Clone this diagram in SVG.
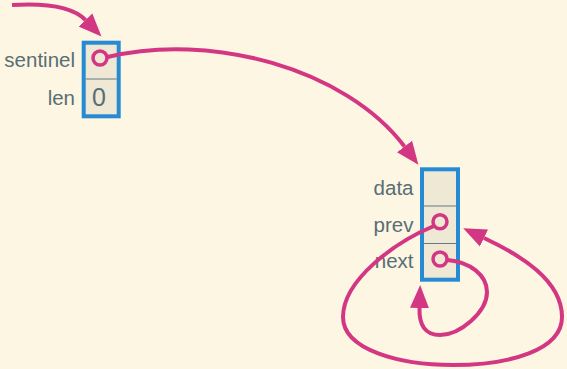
<svg xmlns="http://www.w3.org/2000/svg" width="567" height="369" viewBox="0 0 567 369">
<style>
.bg{fill:#fdf6e3}
.box{fill:#eee8d5;stroke:#268bd2;stroke-width:4}
.div{stroke:#657b83;stroke-width:1}
.lbl{font-family:"Liberation Sans",Arial,sans-serif;font-size:20.5px;fill:#586e75;text-anchor:end}
.val{font-family:"Liberation Sans",Arial,sans-serif;font-size:25px;fill:#586e75;text-anchor:middle}
.ptr{fill:none;stroke:#d33682;stroke-width:3.5}
.conn{fill:none;stroke:#d33682;stroke-width:4}
</style>
<defs>
<marker id="ah" viewBox="0 -10 24 20" markerWidth="24" markerHeight="20" refX="0" refY="0" orient="auto" markerUnits="userSpaceOnUse">
<path d="M0,-9.5 L23,0 L0,9.5 z" fill="#d33682"/>
</marker>
</defs>
<rect class="bg" x="0" y="0" width="567" height="369"/>
<g id="list">
<rect class="box" x="83.7" y="42.7" width="35" height="73.6"/>
<line class="div" x1="85.7" y1="79" x2="116.7" y2="79"/>
<text class="lbl" x="75" y="67">sentinel</text>
<text class="lbl" x="75" y="105">len</text>
<text class="val" x="99" y="105.5">0</text>
<circle class="ptr" cx="100" cy="58" r="7"/>
</g>
<g id="node">
<rect class="box" x="422" y="169.3" width="36" height="110.4"/>
<line class="div" x1="424" y1="206" x2="456" y2="206"/>
<line class="div" x1="424" y1="243.5" x2="456" y2="243.5"/>
<text class="lbl" x="413.5" y="195">data</text>
<text class="lbl" x="413.5" y="231.5">prev</text>
<text class="lbl" x="413.5" y="268">next</text>
<circle class="ptr" cx="440" cy="221.7" r="7"/>
<circle class="ptr" cx="440" cy="259" r="7"/>
</g>
<g id="connectors">
<path class="conn" d="M12,5 C45,3 72,6 85.5,20" marker-end="url(#ah)"/>
<path class="conn" d="M107.5,57 C210,32 345,68 404.5,146.5" marker-end="url(#ah)"/>
<path class="conn" d="M434,226 C395,242 343,280 343,317 C343,350 400,365 453,365 C510,365 562,350 562,317 C562,280 520,255 484,238" marker-end="url(#ah)"/>
<path class="conn" d="M447.5,260 C470,262 487,275 487,292 C487,312 460,335 440,335 C425,335 419,325 419.5,308" marker-end="url(#ah)"/>
</g>
</svg>
